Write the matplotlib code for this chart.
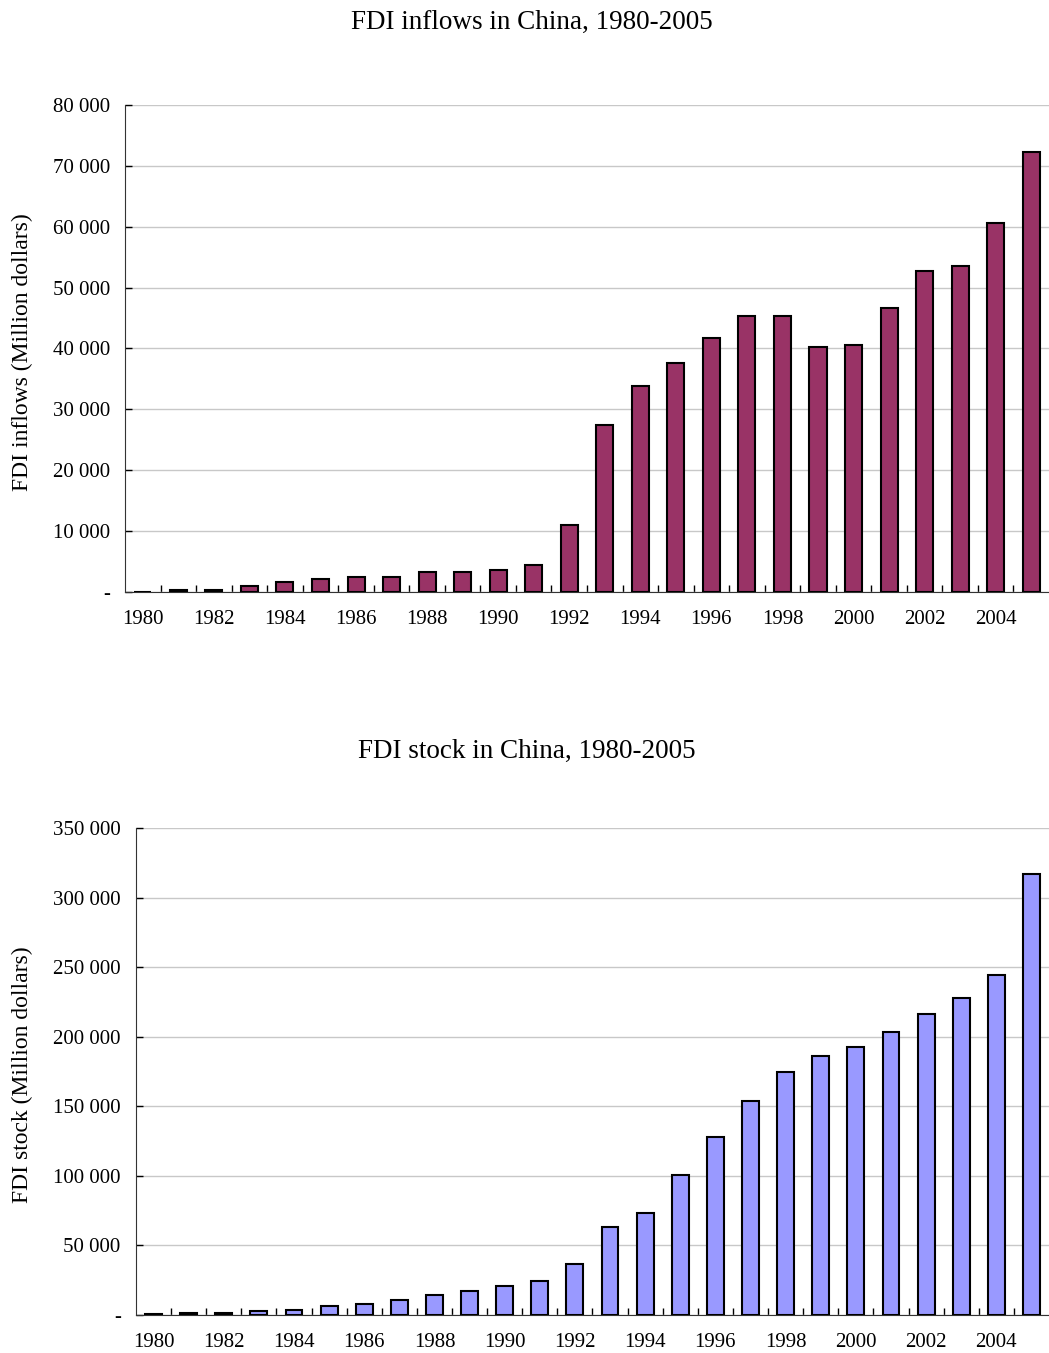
import matplotlib
matplotlib.use("Agg")
import matplotlib.pyplot as plt
from matplotlib.ticker import FuncFormatter, FixedLocator, MultipleLocator

plt.rcParams['font.family'] = ['Liberation Serif', 'DejaVu Serif']

years = list(range(1980, 2006))
inflows = [57, 300, 300, 900, 1600, 2100, 2400, 2400, 3300, 3300, 3600, 4400, 11000,
           27400, 33800, 37600, 41700, 45300, 45300, 40300, 40600, 46700, 52700, 53500,
           60600, 72300]
stock = [1000, 1100, 1200, 2900, 3800, 6500, 7900, 10500, 14100, 16900, 20800, 24600,
         36400, 63200, 73300, 100600, 127900, 153700, 174600, 186000, 192500, 203300,
         216200, 227700, 244300, 316800]


def fmt(v, pos):
    if v == 0:
        return '-'
    return f'{int(v):,}'.replace(',', ' ')


def draw(ax, values, color, ymax, ystep):
    x = list(range(len(years)))
    ax.bar(x, values, width=0.48, color=color, edgecolor='black', linewidth=1.5, zorder=3)
    ax.set_xlim(-0.5, len(years) - 0.5)
    ax.set_ylim(0, ymax)
    ax.yaxis.set_major_locator(MultipleLocator(ystep))
    ax.yaxis.set_major_formatter(FuncFormatter(fmt))
    ax.grid(axis='y', color='#c8c8c8', linewidth=1, zorder=0)
    ax.set_xticks(x[::2])
    ax.set_xticklabels([str(y) for y in years[::2]])
    ax.xaxis.set_minor_locator(FixedLocator([i + 0.5 for i in x[:-1]]))
    ax.tick_params(axis='x', which='major', length=0, pad=13, labelsize=15)
    ax.tick_params(axis='x', which='minor', direction='in', length=5, width=1)
    ax.tick_params(axis='y', direction='in', length=5, width=1, pad=11, labelsize=15)
    for s in ('top', 'right'):
        ax.spines[s].set_visible(False)
    ax.spines['left'].set_color('#333333')
    ax.spines['bottom'].set_color('#333333')


fig = plt.figure(figsize=(10.49, 13.53), dpi=100)
ax1 = fig.add_axes([0.1192, 0.5625, 0.8808, 0.3599])
ax2 = fig.add_axes([0.1296, 0.0281, 0.8704, 0.3599])

draw(ax1, inflows, '#993366', 80000, 10000)
draw(ax2, stock, '#9999FF', 350000, 50000)

fig.text(532 / 1049, 1 - 22 / 1353, 'FDI inflows in China, 1980-2005',
         fontsize=19.5, ha='center', va='center')
fig.text(527 / 1049, 1 - 751 / 1353, 'FDI stock in China, 1980-2005',
         fontsize=19.5, ha='center', va='center')
fig.text(22 / 1049, 1 - 352 / 1353, 'FDI inflows (Million dollars)',
         fontsize=17, rotation=90, ha='center', va='center')
fig.text(22 / 1049, 1 - 1075 / 1353, 'FDI stock (Million dollars)',
         fontsize=17, rotation=90, ha='center', va='center')

fig.savefig('out.png', dpi=100)
